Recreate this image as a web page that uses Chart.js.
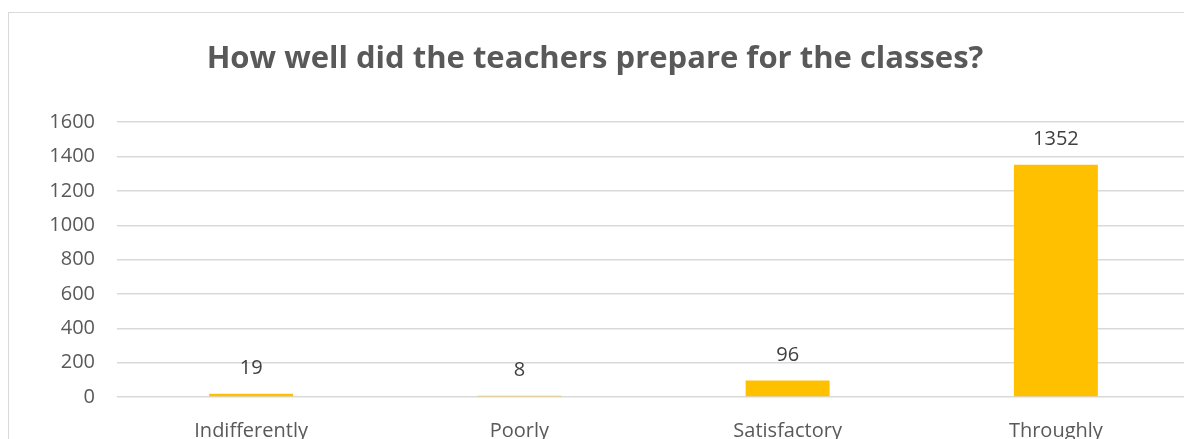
<!DOCTYPE html>
<html>
<head>
<meta charset="utf-8">
<script src="https://cdn.jsdelivr.net/npm/chart.js@4/dist/chart.umd.min.js"></script>
<style>
    html, body { margin: 0; padding: 0; background: #fff; overflow: hidden; }
    #wrap { position: relative; width: 1184px; height: 439px; overflow: hidden; }
    #frame { position: absolute; left: 8px; top: 12px; width: 1200px; height: 460px; border: 1px solid #d9d9d9; }
    #chartBox { position: absolute; left: 0; top: 0; width: 1190px; height: 439px; }
</style>
</head>
<body>
<div id="wrap">
    <div id="frame"></div>
    <div id="chartBox"><canvas id="barChart"></canvas></div>
</div>
<script>
const categories = ['Indifferently', 'Poorly', 'Satisfactory', 'Throughly'];
const answers = [19, 8, 96, 1352];
const yTicks = [0, 200, 400, 600, 800, 1000, 1200, 1400, 1600];

const textColor = '#595959';
const fontName = "'Open Sans', 'Liberation Sans', sans-serif";

// values above the bars, like the Excel data labels
const valueLabels = {
    id: 'valueLabels',
    afterDatasetsDraw: function(chart) {
        const ctx = chart.ctx;
        const meta = chart.getDatasetMeta(0);
        ctx.save();
        ctx.font = '20px ' + fontName;
        ctx.fillStyle = '#404040';
        ctx.textAlign = 'center';
        ctx.textBaseline = 'middle';
        meta.data.forEach((bar, i) => {
            ctx.fillText(String(answers[i]), bar.x, bar.y - 25);
        });
        ctx.restore();
    }
};

document.addEventListener('DOMContentLoaded', function() {
    let ctx = document.getElementById('barChart').getContext('2d');
    window.barChart = new Chart(ctx, {
        type: 'bar',
        data: {
            labels: categories,
            datasets: [{
                label: 'Answers',
                data: answers,
                backgroundColor: '#FFC000',
                borderWidth: 0,
                categoryPercentage: 1,
                barPercentage: 0.313
            }]
        },
        options: {
            responsive: true,
            maintainAspectRatio: false,
            animation: false,
            layout: { padding: 0 },
            plugins: {
                legend: { display: false },
                tooltip: { enabled: false },
                title: {
                    display: true,
                    text: 'How well did the teachers prepare for the classes?',
                    color: textColor,
                    font: { family: fontName, size: 31, weight: 'bold' },
                    padding: { top: 41, bottom: 44 }
                }
            },
            scales: {
                x: {
                    grid: { display: false, drawTicks: false },
                    border: { display: false },
                    ticks: {
                        color: textColor,
                        font: { family: fontName, size: 20 },
                        padding: 22,
                        maxRotation: 0
                    },
                    afterFit: function(scale) { scale.height = 42; }
                },
                y: {
                    min: 0,
                    max: yTicks[yTicks.length - 1],
                    afterBuildTicks: function(scale) {
                        scale.ticks = yTicks.map(v => ({ value: v }));
                    },
                    grid: { color: '#d9d9d9', lineWidth: 1.5, drawTicks: false },
                    border: { display: false },
                    ticks: {
                        color: textColor,
                        font: { family: fontName, size: 20 },
                        padding: 22,
                        callback: v => String(v)
                    },
                    afterFit: function(scale) { scale.width = 117; }
                }
            }
        },
        plugins: [valueLabels]
    });
});
</script>
</body>
</html>
